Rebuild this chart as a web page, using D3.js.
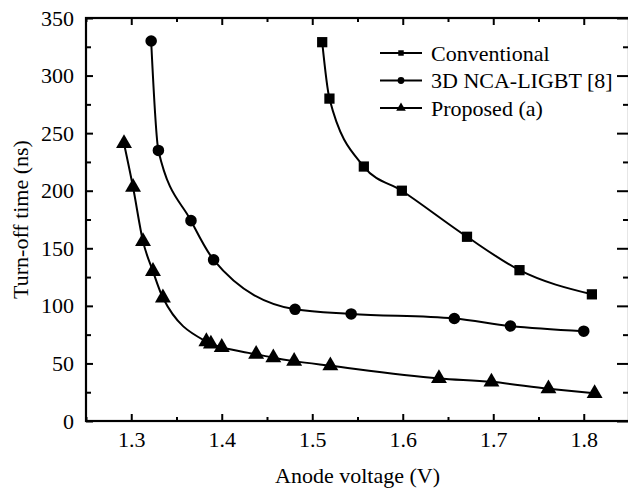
<!DOCTYPE html>
<html><head><meta charset="utf-8">
<script src="https://cdn.jsdelivr.net/npm/d3@7"></script>
<style>body{margin:0;background:#fff}svg{display:block}text{font-family:"Liberation Serif","Times New Roman",serif;fill:#000}</style>
</head><body><svg id="c" width="628" height="493"></svg>
<script>
const seriesNames = ["Conventional", "3D NCA-LIGBT [8]", "Proposed (a)"];
const convX = [1.511, 1.519, 1.557, 1.599, 1.671, 1.729, 1.809];
const convY = [329, 280, 221, 200, 160, 131, 110];
const ncaX = [1.322, 1.330, 1.366, 1.391, 1.481, 1.543, 1.657, 1.719, 1.800];
const ncaY = [330, 235, 174, 140, 97, 93, 89, 82.5, 78];
const propX = [1.292, 1.302, 1.313, 1.324, 1.335, 1.383, 1.388, 1.400, 1.438, 1.457, 1.480, 1.520, 1.640, 1.698, 1.761, 1.812];
const propY = [241, 203, 156, 130, 107, 69, 67, 64, 58, 55, 52, 48, 37, 34, 28, 24];
const xTicks = [1.3, 1.4, 1.5, 1.6, 1.7, 1.8];
const xMinor = [1.25, 1.35, 1.45, 1.55, 1.65, 1.75, 1.85];
const yTicks = [0, 50, 100, 150, 200, 250, 300, 350];
const yMinor = [25, 75, 125, 175, 225, 275, 325];

const svg = d3.select("#c");
const L = 86, R = 629, T = 18, B = 421;
const x = d3.scaleLinear().domain([1.25, 1.85]).range([L, R]);
const y = d3.scaleLinear().domain([0, 350]).range([B, T]);
const fs = "22px";

function styleAxis(g){ g.select(".domain").remove(); g.selectAll("line").attr("stroke","#000").attr("stroke-width",2); g.selectAll("text").style("font-size",fs); }
// bottom
svg.append("g").attr("transform",`translate(0,${B})`).call(d3.axisBottom(x).tickValues(xTicks).tickSize(-7).tickPadding(10).tickFormat(d3.format(".1f"))).call(styleAxis);
svg.append("g").attr("transform",`translate(0,${B})`).call(d3.axisBottom(x).tickValues(xMinor).tickSize(-4).tickFormat("")).call(styleAxis);
// top
svg.append("g").attr("transform",`translate(0,${T})`).call(d3.axisTop(x).tickValues(xTicks).tickSize(-7).tickFormat("")).call(styleAxis);
svg.append("g").attr("transform",`translate(0,${T})`).call(d3.axisTop(x).tickValues(xMinor).tickSize(-4).tickFormat("")).call(styleAxis);
// left
svg.append("g").attr("transform",`translate(${L},0)`).call(d3.axisLeft(y).tickValues(yTicks).tickSize(-7).tickPadding(12).tickFormat(d3.format("d"))).call(styleAxis);
svg.append("g").attr("transform",`translate(${L},0)`).call(d3.axisLeft(y).tickValues(yMinor).tickSize(-5).tickFormat("")).call(styleAxis);
// right
svg.append("g").attr("transform",`translate(${R},0)`).call(d3.axisRight(y).tickValues(yTicks).tickSize(-12).tickFormat("")).call(styleAxis);
svg.append("g").attr("transform",`translate(${R},0)`).call(d3.axisRight(y).tickValues(yMinor).tickSize(-6).tickFormat("")).call(styleAxis);

svg.append("rect").attr("x",L).attr("y",T).attr("width",R-L).attr("height",B-T).attr("fill","none").attr("stroke","#000").attr("stroke-width",2.2);

const series = [
  {name: seriesNames[0], xs: convX, ys: convY, sym: d3.symbolSquare, size: 105, lsize: 30},
  {name: seriesNames[1], xs: ncaX, ys: ncaY, sym: d3.symbolCircle, size: 105, lsize: 36},
  {name: seriesNames[2], xs: propX, ys: propY, sym: d3.symbolTriangle, size: 110, lsize: 40},
];
const line = d3.line().x(d=>x(d[0])).y(d=>y(d[1])).curve(d3.curveMonotoneX);
series.forEach(s => {
  const pts = s.xs.map((v,i)=>[v, s.ys[i]]);
  svg.append("path").datum(pts).attr("d", line).attr("fill","none").attr("stroke","#000").attr("stroke-width",2);
  svg.append("g").selectAll("path").data(pts).join("path")
    .attr("transform", d=>`translate(${x(d[0])},${y(d[1])})`)
    .attr("d", d3.symbol().type(s.sym).size(s.size)).attr("fill","#000");
});

// legend
const legY = [53, 80.5, 108];
series.forEach((s,i) => {
  const g = svg.append("g").attr("transform",`translate(0,${legY[i]})`);
  g.append("line").attr("x1",380).attr("x2",422).attr("y1",0).attr("y2",0).attr("stroke","#000").attr("stroke-width",2);
  g.append("path").attr("transform","translate(401,0)").attr("d", d3.symbol().type(s.sym).size(s.lsize)).attr("fill","#000");
  g.append("text").attr("x",431).attr("y",0).attr("dy","0.35em").style("font-size","22px").text(s.name);
});

// axis titles
svg.append("text").attr("x",(L+R)/2).attr("y",483).attr("text-anchor","middle").style("font-size",fs).text("Anode voltage (V)");
svg.append("text").attr("transform",`translate(28,${(T+B)/2}) rotate(-90)`).attr("text-anchor","middle").style("font-size",fs).text("Turn-off time (ns)");
</script></body></html>
